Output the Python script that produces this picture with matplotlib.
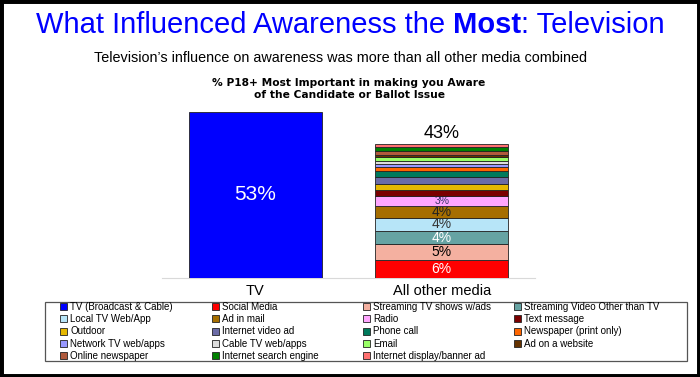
import matplotlib.pyplot as plt
from matplotlib.patches import Rectangle

# data
categories = ['TV', 'All other media']
tv_value = 53
media = ['Social Media', 'Streaming TV shows w/ads', 'Streaming Video Other than TV',
         'Local TV Web/App', 'Ad in mail', 'Radio', 'Text message', 'Outdoor',
         'Internet video ad', 'Phone call', 'Newspaper (print only)', 'Network TV web/apps',
         'Cable TV web/apps', 'Email', 'Ad on a website', 'Online newspaper',
         'Internet search engine', 'Internet display/banner ad']
media_values = [5.6, 5.0, 4.3, 4.2, 3.9, 3.1, 2.0, 2.0, 2.0, 2.0,
                1.2, 1.0, 0.9, 1.3, 0.9, 1.2, 1.2, 1.1]
media_colors = ['#FF0000', '#F4B0A0', '#66A3A3', '#B7E5F8', '#A66E00', '#FFA6FF',
                '#7A0000', '#E6B800', '#6B6BA6', '#007A5C', '#FF6600', '#9999FF',
                '#DDDDDD', '#99FF66', '#663300', '#B05A3C', '#008000', '#FF7070']
# text colour for the labelled segments
label_colors = ['white', 'black', 'white', '#333333', '#222222', '#333366']

plt.rcParams['font.family'] = ['Liberation Sans', 'DejaVu Sans']

W, H = 700, 377
fig = plt.figure(figsize=(W / 100, H / 100), dpi=100)
fig.patches.append(Rectangle((0, 0), 1, 1, transform=fig.transFigure,
                             fill=False, edgecolor='black', linewidth=5))

ax = fig.add_axes([162 / W, (H - 277.5) / H, 373 / W, 171.6 / H])
ax.set_xlim(-0.5, 1.5)
ax.set_ylim(0, 55)
bw = 0.715

tv_bar = ax.bar(0, tv_value, bw, color='#0000FF', edgecolor='#222222', linewidth=0.6,
                label='TV (Broadcast & Cable)', zorder=3)
ax.text(0, tv_value / 2, f'{tv_value}%', ha='center', va='center', color='white',
        fontsize=15)

handles = [tv_bar]
bottom = 0
for i, (name, v, c) in enumerate(zip(media, media_values, media_colors)):
    b = ax.bar(1, v, bw, bottom=bottom, color=c, edgecolor='#222222', linewidth=0.6,
               label=name, zorder=3)
    handles.append(b)
    if i < len(label_colors):
        fs = 10 if v >= 3.5 else 7.5
        ax.text(1, bottom + v / 2, f'{round(v)}%', ha='center', va='center',
                color=label_colors[i], fontsize=fs)
    bottom += v
ax.text(1, bottom + 0.5, f'{round(bottom)}%', ha='center', va='bottom', fontsize=13)

ax.set_xticks([0, 1])
ax.set_xticklabels(categories, fontsize=10.5)
ax.tick_params(length=0, pad=5)
ax.set_yticks([])
for s in ['top', 'left', 'right']:
    ax.spines[s].set_visible(False)
ax.spines['bottom'].set_color('#D9D9D9')

# title with bold word
r = fig.canvas.get_renderer()
parts = [('What Influenced Awareness the ', 'normal'), ('Most', 'bold'), (': Television', 'normal')]
texts = []
for s, w in parts:
    texts.append(fig.text(0, 1 - 25 / H, s, color='#0000FF', fontsize=21, fontweight=w,
                          va='center', ha='left'))
widths = [t.get_window_extent(r).width for t in texts]
x = 350 - sum(widths) / 2
for t, w in zip(texts, widths):
    t.set_x(x / W)
    x += w

fig.text(341 / W, 1 - 58 / H, 'Television\u2019s influence on awareness was more than all other media combined',
         ha='center', va='center', fontsize=10.4)
fig.text(349 / W, 1 - 89 / H, '% P18+ Most Important in making you Aware\nof the Candidate or Ballot Issue',
         ha='center', va='center', fontsize=7.7, fontweight='bold', linespacing=1.35,
         family='DejaVu Sans')

# legend: four columns filled row by row, inside one frame
labels = ['TV (Broadcast & Cable)'] + media
col_x = [60, 212, 363, 514]
for c, cx in enumerate(col_x):
    idx = list(range(c, len(labels), 4))
    leg = fig.legend([handles[i] for i in idx], [labels[i] for i in idx],
                     loc='upper left', bbox_to_anchor=(cx / W, 1 - 302 / H),
                     frameon=False, fontsize=7, handlelength=0.75, handleheight=0.75,
                     handletextpad=0.3, labelspacing=0.23, borderpad=0, borderaxespad=0)
fig.patches.append(Rectangle((45 / W, 1 - 361 / H), 642 / W, 59 / H, transform=fig.transFigure,
                             fill=False, edgecolor='#555555', linewidth=0.9))

fig.savefig('out.png', dpi=100)
